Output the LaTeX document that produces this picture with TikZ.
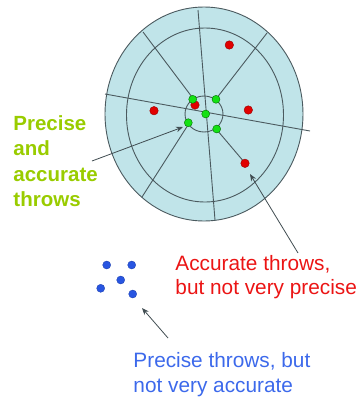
\documentclass[tikz,border=0pt]{standalone}
\usepackage{fontspec}
\setmainfont{Liberation Sans}
\usetikzlibrary{arrows.meta}

\definecolor{boardfill}{RGB}{192,228,233}
\definecolor{ringline}{RGB}{75,90,95}
\definecolor{precisegreen}{RGB}{153,204,0}
\definecolor{throwred}{RGB}{235,20,20}
\definecolor{throwblue}{RGB}{60,105,235}
\definecolor{dotred}{RGB}{225,0,0}
\definecolor{dotgreen}{RGB}{20,225,20}
\definecolor{dotblue}{RGB}{40,85,225}

\begin{document}
\begin{tikzpicture}[x=1pt, y=-1pt, line width=0.9pt,
  ring/.style={draw=ringline},
  hit/.style={circle, inner sep=0pt, minimum size=8.5pt, line width=0.4pt},
  reddot/.style={hit, fill=dotred, draw=red!60!black},
  greendot/.style={hit, minimum size=8pt, fill=dotgreen, draw=green!45!black},
  bluedot/.style={hit, minimum size=8pt, fill=dotblue, draw=dotblue!80!black},
  pointer/.style={draw=ringline!85!black, line width=0.8pt, -{Stealth[length=7pt,width=5.5pt]}},
  notetext/.style={inner sep=0pt, anchor=north west, align=left}]
  \useasboundingbox (0,0) rectangle (359,397);

  % the board: outer ring, middle ring
  \coordinate (O) at (204,114);
  \fill[boardfill] (O) ellipse[x radius=99, y radius=107];
  \draw[ring] (O) ellipse[x radius=99, y radius=107];
  \draw[ring] (205,115) ellipse[x radius=78.5, y radius=87];

  % spokes
  \coordinate (vtop) at (198,10);
  \coordinate (vbot) at (215,220);
  \coordinate (hlft) at (105,94);
  \coordinate (hrgt) at (310,131);
  \coordinate (ulout) at (143,32);
  \coordinate (ulin)  at (192,97);
  \coordinate (urout) at (267,33);
  \coordinate (urin)  at (216,99);
  \coordinate (llin)  at (188,125);
  \coordinate (llout) at (142,197);
  \coordinate (lrin)  at (217,130);
  \coordinate (lrout) at (245,163);
  \draw[ring] (vtop) -- (vbot);
  \draw[ring] (hlft) -- (hrgt);
  \draw[ring] (ulout) -- (ulin);
  \draw[ring] (urout) -- (urin);
  \draw[ring] (llin) -- (llout);
  \draw[ring] (lrin) -- (lrout);

  % bull's eye
  \draw[ring] (204,114) ellipse[x radius=19, y radius=18];

  % accurate but not precise
  \node[reddot] (r1) at (195,105) {};
  \node[reddot] (r2) at (154,110.7) {};
  \node[reddot] (r3) at (248.3,110) {};
  \node[reddot] (r4) at (245,163.3) {};
  \node[reddot] (r5) at (229.3,45) {};

  % precise and accurate
  \node[greendot] (g1) at (192.7,99.3) {};
  \node[greendot] (g2) at (216,99.3) {};
  \node[greendot] (g3) at (205.7,114) {};
  \node[greendot] (g4) at (188.3,122.7) {};
  \node[greendot] (g5) at (216.7,129) {};

  % precise but not accurate
  \node[bluedot] (b1) at (106.7,265) {};
  \node[bluedot] (b2) at (131.7,265) {};
  \node[bluedot] (b3) at (120.7,280) {};
  \node[bluedot] (b4) at (100.7,288.3) {};
  \node[bluedot] (b5) at (132.7,294) {};

  % labels
  \node[notetext, text=precisegreen, font=\bfseries\fontsize{20.5}{25.5}\selectfont]
    (goodtxt) at (13,115) {Precise\\and\\accurate\\throws};
  \node[notetext, text=throwred, font=\fontsize{20.8}{24}\selectfont]
    (redtxt) at (175,254.5) {Accurate throws,\\but not very precise};
  \node[notetext, text=throwblue, font=\fontsize{20.8}{25}\selectfont]
    (bluetxt) at (133,351.5) {Precise throws, but\\not very accurate};

  % pointers
  \coordinate (goodtail) at (92,161);
  \coordinate (goodtip)  at (183,127);
  \coordinate (redtail)  at (298,253);
  \coordinate (redtip)   at (250,174);
  \coordinate (bluetail) at (168,338);
  \coordinate (bluetip)  at (142,308);
  \draw[pointer] (goodtail) -- (goodtip);
  \draw[pointer] (redtail) -- (redtip);
  \draw[pointer] (bluetail) -- (bluetip);
\end{tikzpicture}
\end{document}
